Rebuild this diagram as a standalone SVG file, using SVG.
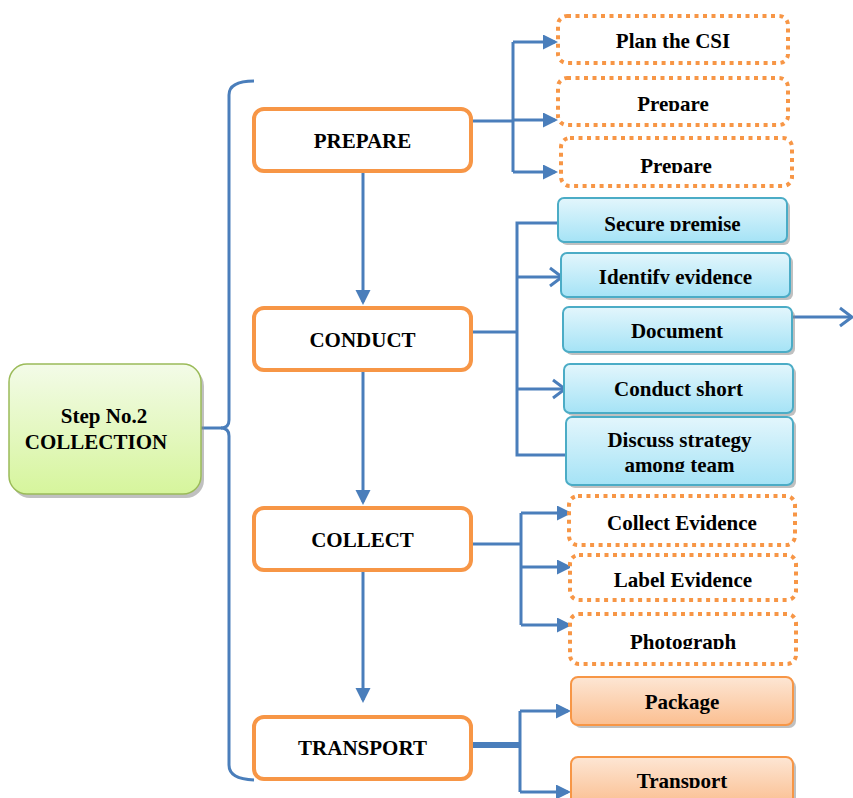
<svg xmlns="http://www.w3.org/2000/svg" width="853" height="798" viewBox="0 0 853 798">
<defs>
<style>
.t{font-family:"Liberation Serif","Times New Roman",serif;font-weight:bold;font-size:21px;fill:#000;text-anchor:middle}
.main{fill:#fff;stroke:#f79646;stroke-width:4}
.dot{fill:#fff;stroke:#f79646;stroke-width:4;stroke-dasharray:4 4.5}
.blue{fill:url(#gb);stroke:#4bacc6;stroke-width:2}
.org{fill:url(#go);stroke:#f79646;stroke-width:2}
.sh{fill:#8c8c8c;opacity:0.55}
.c{fill:none;stroke:#4a7ebb;stroke-width:3}
</style>
<linearGradient id="gb" x1="0" y1="0" x2="0" y2="1"><stop offset="0" stop-color="#e3f6fc"/><stop offset="1" stop-color="#a5e3f6"/></linearGradient>
<linearGradient id="go" x1="0" y1="0" x2="0" y2="1"><stop offset="0" stop-color="#fde6d4"/><stop offset="1" stop-color="#fbbf91"/></linearGradient>
<linearGradient id="gg" x1="0" y1="0" x2="0" y2="1"><stop offset="0" stop-color="#f3fbe8"/><stop offset="1" stop-color="#d6f59c"/></linearGradient>
<marker id="ar" markerUnits="userSpaceOnUse" markerWidth="16" markerHeight="16" refX="12" refY="7.5" orient="auto"><path d="M0,0 L15,7.5 L0,15 z" fill="#4a7ebb"/></marker>
<marker id="op" markerUnits="userSpaceOnUse" markerWidth="20" markerHeight="24" refX="14" refY="11" orient="auto"><path d="M2,2 L14,11 L2,20" fill="none" stroke="#4a7ebb" stroke-width="3"/></marker>
<clipPath id="c1"><rect x="557" y="78" width="231" height="33"/></clipPath>
<clipPath id="c2"><rect x="560" y="137" width="232" height="36"/></clipPath>
<clipPath id="c3"><rect x="558" y="198" width="229" height="33"/></clipPath>
<clipPath id="c4"><rect x="561" y="253" width="229" height="31"/></clipPath>
<clipPath id="c5"><rect x="566" y="417" width="227" height="55"/></clipPath>
<clipPath id="c6"><rect x="569" y="613" width="227" height="36"/></clipPath>
<clipPath id="c7"><rect x="571" y="757" width="222" height="31"/></clipPath>
</defs>

<g id="connectors">
<path class="c" d="M254,81 Q229,81 229,95 L229,420 Q229,428 221,428 Q229,428 229,436 L229,765 Q229,779 254,780"/>
<line class="c" x1="201" y1="428" x2="222" y2="428"/>
<line class="c" x1="363" y1="171" x2="363" y2="302" marker-end="url(#ar)"/>
<line class="c" x1="363" y1="370" x2="363" y2="502" marker-end="url(#ar)"/>
<line class="c" x1="363" y1="570" x2="363" y2="700" marker-end="url(#ar)"/>
<path class="c" d="M472,121 L513,121"/>
<path class="c" d="M513,42 L513,172"/>
<line class="c" x1="513" y1="42" x2="555" y2="42" marker-end="url(#ar)"/>
<line class="c" x1="513" y1="120" x2="555" y2="120" marker-end="url(#ar)"/>
<line class="c" x1="513" y1="172" x2="555" y2="172" marker-end="url(#ar)"/>
<path class="c" d="M472,332 L517,332"/>
<path class="c" d="M558,223 L517,223 L517,455 L566,455"/>
<line class="c" x1="517" y1="277" x2="562" y2="277" marker-end="url(#op)"/>
<line class="c" x1="517" y1="389" x2="565" y2="389" marker-end="url(#op)"/>
<line class="c" x1="792" y1="317" x2="852" y2="317" marker-end="url(#op)"/>
<path class="c" d="M472,544 L521,544"/>
<path class="c" d="M521,513 L521,625"/>
<line class="c" x1="521" y1="513" x2="569" y2="513" marker-end="url(#ar)"/>
<line class="c" x1="521" y1="567" x2="569" y2="567" marker-end="url(#ar)"/>
<line class="c" x1="521" y1="625" x2="569" y2="625" marker-end="url(#ar)"/>
<line x1="472" y1="745" x2="521" y2="745" stroke="#4a7ebb" stroke-width="6"/>
<path class="c" d="M520,711 L520,792"/>
<line class="c" x1="520" y1="711" x2="568" y2="711" marker-end="url(#ar)"/>
<line class="c" x1="520" y1="792" x2="568" y2="792" marker-end="url(#ar)"/>
</g>

<g id="step">
<rect x="12" y="368" width="192" height="130" rx="18" class="sh"/>
<rect x="9" y="364" width="192" height="130" rx="18" fill="url(#gg)" stroke="#9bbb59" stroke-width="1.5"/>
<text class="t" x="104" y="423">Step No.2</text>
<text class="t" x="96" y="449">COLLECTION</text>
</g>

<g id="prepare"><rect class="main" x="254" y="109" width="217" height="62" rx="10"/><text class="t" x="362.5" y="148">PREPARE</text></g>
<g id="conduct"><rect class="main" x="254" y="308" width="217" height="62" rx="10"/><text class="t" x="362.5" y="347">CONDUCT</text></g>
<g id="collect"><rect class="main" x="254" y="508" width="217" height="62" rx="10"/><text class="t" x="362.5" y="547">COLLECT</text></g>
<g id="transport"><rect class="main" x="254" y="717" width="217" height="62" rx="10"/><text class="t" x="362.5" y="755">TRANSPORT</text></g>

<g id="plan"><rect class="dot" x="558" y="16" width="230" height="47" rx="9"/><text class="t" x="673" y="48">Plan the CSI</text></g>
<g id="prepare1"><rect class="dot" x="558" y="78" width="230" height="47" rx="9"/><text class="t" x="673" y="111" clip-path="url(#c1)">Prepare</text></g>
<g id="prepare2"><rect class="dot" x="561" y="138" width="231" height="48" rx="9"/><text class="t" x="676" y="172.5" clip-path="url(#c2)">Prepare</text></g>

<g id="secure"><rect class="sh" x="561" y="201" width="229" height="44" rx="6"/><rect class="blue" x="558" y="198" width="229" height="44" rx="6"/><text class="t" x="672.5" y="230.5" clip-path="url(#c3)">Secure premise</text></g>
<g id="identify"><rect class="sh" x="564" y="256" width="229" height="44" rx="6"/><rect class="blue" x="561" y="253" width="229" height="44" rx="6"/><text class="t" x="675.5" y="283.5" clip-path="url(#c4)">Identify evidence</text></g>
<g id="document"><rect class="sh" x="566" y="310" width="229" height="45" rx="6"/><rect class="blue" x="563" y="307" width="229" height="45" rx="6"/><text class="t" x="677" y="338">Document</text></g>
<g id="short"><rect class="sh" x="567" y="367" width="229" height="49" rx="6"/><rect class="blue" x="564" y="364" width="229" height="49" rx="6"/><text class="t" x="678.5" y="396">Conduct short</text></g>
<g id="discuss"><rect class="sh" x="569" y="420" width="227" height="68" rx="6"/><rect class="blue" x="566" y="417" width="227" height="68" rx="6"/><text class="t" x="679.5" y="447">Discuss strategy</text><text class="t" x="679.5" y="472" clip-path="url(#c5)">among team</text></g>

<g id="collectev"><rect class="dot" x="569" y="496" width="226" height="49" rx="9"/><text class="t" x="682" y="530">Collect Evidence</text></g>
<g id="label"><rect class="dot" x="570" y="555" width="226" height="45" rx="9"/><text class="t" x="683" y="587">Label Evidence</text></g>
<g id="photo"><rect class="dot" x="570" y="614" width="226" height="50" rx="9"/><text class="t" x="683" y="649" clip-path="url(#c6)">Photograph</text></g>

<g id="package"><rect class="sh" x="574" y="680" width="222" height="48" rx="7"/><rect class="org" x="571" y="677" width="222" height="48" rx="7"/><text class="t" x="682" y="709">Package</text></g>
<g id="transport2"><rect class="sh" x="574" y="760" width="222" height="48" rx="7"/><rect class="org" x="571" y="757" width="222" height="48" rx="7"/><text class="t" x="682" y="788" clip-path="url(#c7)">Transport</text></g>
</svg>
